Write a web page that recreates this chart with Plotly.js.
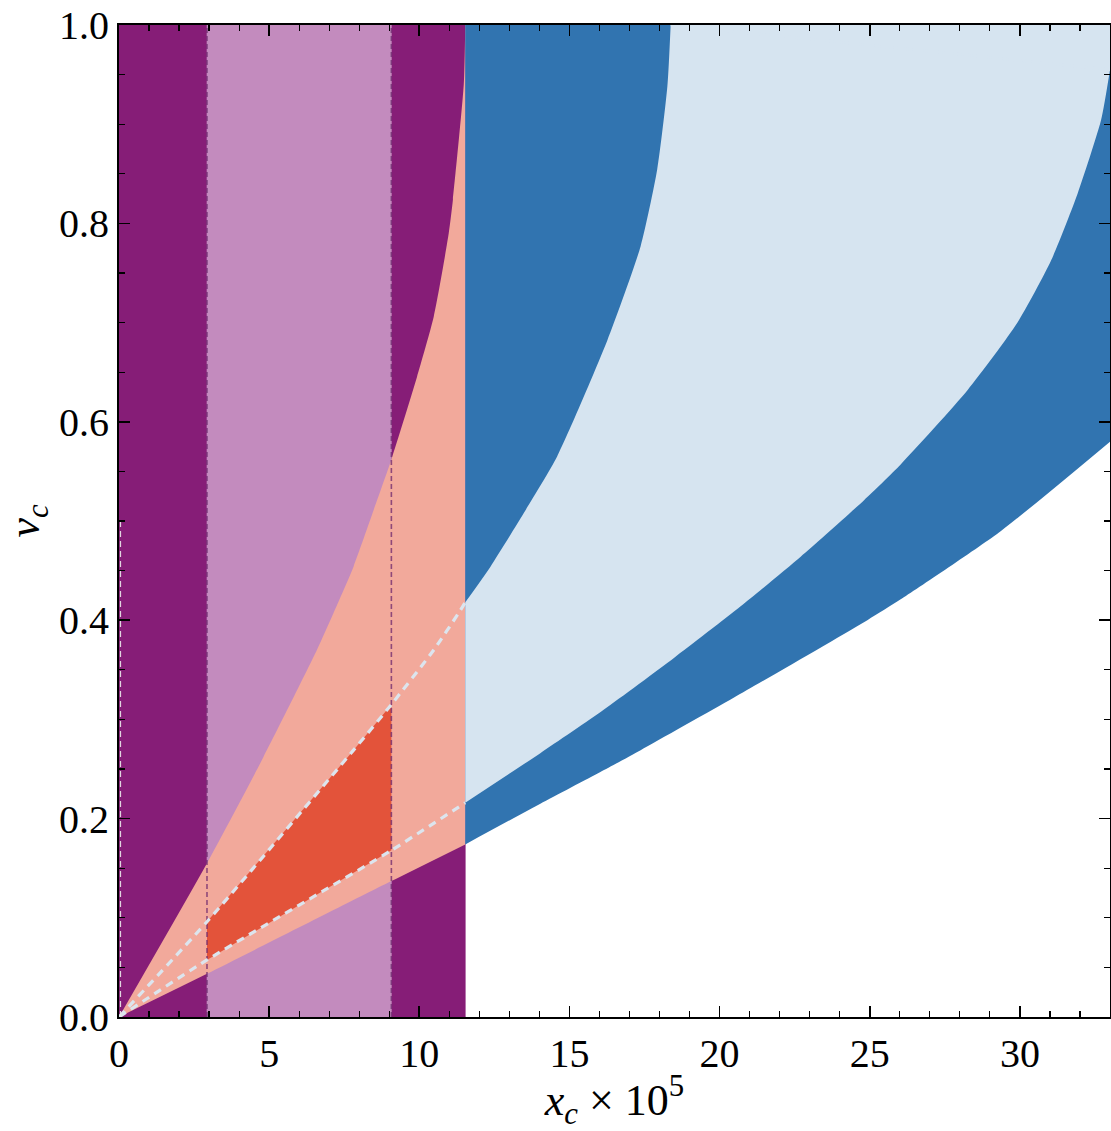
<!DOCTYPE html>
<html>
<head>
<meta charset="utf-8">
<script src="https://cdn.plot.ly/plotly-3.0.1.min.js"></script>
<style>
  html, body { margin: 0; padding: 0; background: #ffffff; }
  #chart { width: 1111px; height: 1131px; }
</style>
</head>
<body>
<div id="chart"></div>
<script>
// ---- data ----
// vertical band edges (x_c × 10^5)
const bandInnerLeft = 2.93;
const bandInnerRight = 9.07;
const bandOuterRight = 11.53;
const xMax = 33;

// upper boundary of the salmon wedge
const upperWedgeX = [0, 2.93, 4.81, 6.59, 7.14, 7.81, 8.48, 9.07, 9.92, 10.48, 10.98, 11.12, 11.48, 11.53];
const upperWedgeV = [0, 0.155, 0.262, 0.370, 0.407, 0.454, 0.511, 0.562, 0.645, 0.706, 0.790, 0.824, 0.940, 1.000];

// lower boundary (salmon wedge and dark blue region)
const lowerEdgeX = [0, 2.93, 9.07, 11.53, 14.03, 16.03, 17.37, 20.48, 24.92, 26.03, 29.37, 33];
const lowerEdgeV = [0, 0.0435, 0.137, 0.174, 0.215, 0.247, 0.269, 0.322, 0.400, 0.421, 0.490, 0.580];

// upper dashed curve (top of red / light blue region)
const upperDashX = [0, 2.93, 7.81, 9.07, 10.48, 11.37, 11.53, 12.37, 13.48, 14.59, 16.26, 17.37, 17.92, 18.26, 18.37];
const upperDashV = [0, 0.096, 0.269, 0.315, 0.370, 0.410, 0.418, 0.454, 0.508, 0.565, 0.682, 0.777, 0.854, 0.938, 1.000];

// lower dashed curve (bottom of red / light blue region)
const lowerDashX = [0, 2.93, 9.07, 11.53, 14.03, 16.15, 18.48, 20.70, 22.70, 24.81, 26.03, 28.26, 29.92, 31.03, 31.92, 32.70, 33];
const lowerDashV = [0, 0.0575, 0.168, 0.216, 0.266, 0.310, 0.362, 0.414, 0.464, 0.521, 0.557, 0.632, 0.700, 0.762, 0.830, 0.904, 0.955];

const xTickVals = [0, 5, 10, 15, 20, 25, 30];
const yTickVals = [0, 0.2, 0.4, 0.6, 0.8, 1.0];

// colours
const cDarkPurple = '#861D77';
const cLightPurple = '#C38BBE';
const cSalmon = '#F2A99B';
const cRed = '#E3533A';
const cDarkBlue = '#3174B0';
const cLightBlue = '#D6E4F0';

// ---- helpers ----
const SMOOTH = 0.6;
function seg(xs, ys, lo, hi) {
  const ox = [], oy = [];
  for (let i = 0; i < xs.length; i++) {
    if (xs[i] >= lo - 1e-9 && xs[i] <= hi + 1e-9) { ox.push(xs[i]); oy.push(ys[i]); }
  }
  return { x: ox, y: oy };
}
function polyFill(xs, ys, color, lw) {
  return { type: 'scatter', mode: 'lines', x: xs, y: ys, fill: 'toself',
           fillcolor: color, line: { color: color, width: lw || 0.6 }, hoverinfo: 'skip', showlegend: false };
}
function base(s) {
  return { type: 'scatter', mode: 'lines', x: s.x, y: s.y,
           line: { width: 0, shape: 'spline', smoothing: SMOOTH, color: 'rgba(0,0,0,0)' },
           hoverinfo: 'skip', showlegend: false };
}
function topFill(s, shape, color) {
  return { type: 'scatter', mode: 'lines', x: s.x, y: s.y, fill: 'tonexty', fillcolor: color,
           line: { width: 0, shape: shape, smoothing: SMOOTH, color: 'rgba(0,0,0,0)' },
           hoverinfo: 'skip', showlegend: false };
}
function dashed(s, color, width, dash, shape) {
  return { type: 'scatter', mode: 'lines', x: s.x, y: s.y,
           line: { color: color, width: width, dash: dash, shape: shape || 'linear', smoothing: SMOOTH },
           hoverinfo: 'skip', showlegend: false };
}

const traces = [];
// dark purple band and light purple band
traces.push(polyFill([0, bandOuterRight, bandOuterRight, 0, 0], [0, 0, 1, 1, 0], cDarkPurple));
traces.push(polyFill([bandInnerLeft, bandInnerRight, bandInnerRight, bandInnerLeft, bandInnerLeft], [0, 0, 1, 1, 0], cLightPurple));
// salmon wedge
traces.push(base(seg(lowerEdgeX, lowerEdgeV, 0, bandOuterRight)));
traces.push(topFill(seg(upperWedgeX, upperWedgeV, 0, bandOuterRight), 'spline', cSalmon));
// red region
traces.push(base(seg(lowerDashX, lowerDashV, bandInnerLeft, bandInnerRight)));
traces.push(topFill(seg(upperDashX, upperDashV, bandInnerLeft, bandInnerRight), 'spline', cRed));
// dark blue region
traces.push(base(seg(lowerEdgeX, lowerEdgeV, bandOuterRight, xMax)));
traces.push(topFill({ x: [bandOuterRight, xMax], y: [1, 1] }, 'linear', cDarkBlue));
// light blue region
{
  const lo = seg(lowerDashX, lowerDashV, bandOuterRight, xMax);
  const up = seg(upperDashX, upperDashV, bandOuterRight, xMax);
  traces.push(base(lo));
  traces.push(topFill(up, 'spline', cLightBlue));
  // thin strip along the top between the end of the upper curve and the right edge
  const ux = up.x[up.x.length - 1], uy = up.y[up.y.length - 1];
  const lx = lo.x[lo.x.length - 1], ly = lo.y[lo.y.length - 1];
  traces.push(polyFill([ux, xMax, lx, ux], [uy, 1, ly, uy], cLightBlue, 2.5));
}
// vertical dashed band edges
traces.push(dashed({ x: [bandInnerLeft, bandInnerLeft], y: [0, 1] }, 'rgba(110,40,110,0.75)', 1.6, '5px,3px'));
traces.push(dashed({ x: [bandInnerRight, bandInnerRight], y: [0, 1] }, 'rgba(110,40,110,0.75)', 1.6, '5px,3px'));
// white dashed curves inside the wedge
traces.push(dashed(seg(upperDashX, upperDashV, 0, bandOuterRight), '#DCE5EE', 3.2, '8px,6px', 'spline'));
traces.push(dashed(seg(lowerDashX, lowerDashV, 0, bandOuterRight), '#DCE5EE', 3.2, '8px,6px', 'spline'));
// faint dashed line along the left axis
traces.push(dashed({ x: [0.05, 0.05], y: [0, 0.5] }, 'rgba(235,235,235,0.9)', 1.2, '6px,4px'));

const fontSerif = "'Liberation Serif', 'Times New Roman', Times, serif";
const tickFont = { family: fontSerif, size: 40, color: '#000' };
const titleFont = { family: fontSerif, size: 44, color: '#000' };
const layout = {
  width: 1111, height: 1131,
  margin: { l: 119, r: 1, t: 25, b: 114 },
  paper_bgcolor: '#ffffff', plot_bgcolor: '#ffffff',
  showlegend: false,
  font: tickFont,
  xaxis: {
    range: [0, xMax], tickvals: xTickVals, ticktext: xTickVals.map(String),
    showgrid: false, zeroline: false, showline: true, linecolor: '#000', linewidth: 2,
    mirror: 'allticks', ticks: 'inside', ticklen: 11, tickwidth: 1.6, tickcolor: '#000',
    minor: { dtick: 1, ticks: 'inside', ticklen: 6, tickwidth: 1.2, tickcolor: '#000', showgrid: false },
    tickfont: tickFont,
    title: { text: '<i>x</i><sub><i>c</i></sub> × 10<sup>5</sup>', font: titleFont, standoff: 8 },
    automargin: false
  },
  yaxis: {
    range: [0, 1], tickvals: yTickVals, ticktext: yTickVals.map(v => v.toFixed(1)),
    showgrid: false, zeroline: false, showline: true, linecolor: '#000', linewidth: 2,
    mirror: 'allticks', ticks: 'inside', ticklen: 11, tickwidth: 1.6, tickcolor: '#000',
    minor: { dtick: 0.05, ticks: 'inside', ticklen: 6, tickwidth: 1.2, tickcolor: '#000', showgrid: false },
    tickfont: tickFont,
    title: { text: '<i>v</i><sub><i>c</i></sub>', font: titleFont, standoff: 6 },
    automargin: false
  }
};

Plotly.newPlot('chart', traces, layout, { staticPlot: true, displayModeBar: false });
</script>
</body>
</html>
